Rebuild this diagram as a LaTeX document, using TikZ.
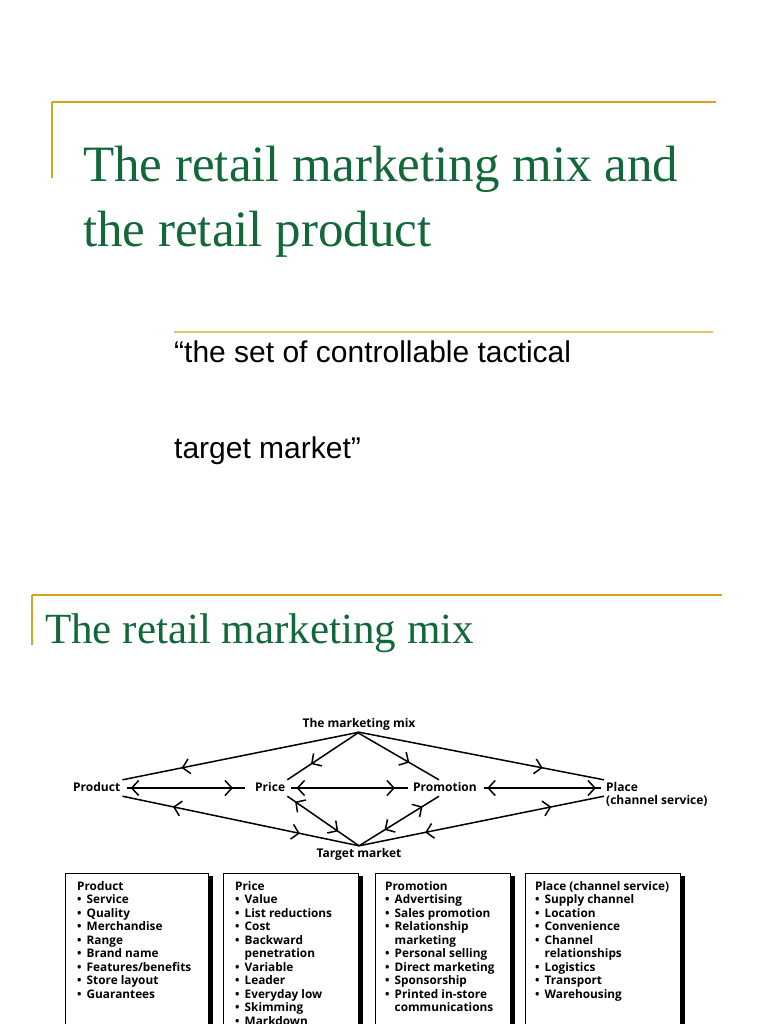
\documentclass[tikz,border=0pt]{standalone}
\usepackage{fontspec}
\setmainfont{Liberation Serif}
\setsansfont{Liberation Sans}
\newfontfamily\mixfont{Open Sans}
\usepackage{tikz}
\usetikzlibrary{arrows.meta,decorations.markings,positioning}
\definecolor{slidegold}{RGB}{214,163,28}
\definecolor{quotegold}{RGB}{228,196,112}
\definecolor{slidegreen}{RGB}{18,104,56}
\tikzset{>={Straight Barb[length=7pt,width=15pt]}}
\tikzset{
  midto/.style={postaction={decorate,decoration={markings,mark=at position #1 with {\arrow{>}}}}},
  twoway/.style 2 args={postaction={decorate,decoration={markings,
      mark=at position #1 with {\arrow{<}},mark=at position #2 with {\arrow{>}}}}}
}
\newcommand{\mixitem}{\makebox[9.5pt][l]{\textbullet}}
\newcommand{\mixcont}{\hspace*{9.5pt}}

\begin{document}
\begin{tikzpicture}[x=1pt,y=-1pt]
  % page in pixels, y runs downwards
  \useasboundingbox (0,0) rectangle (768,1024);
  \clip (0,0) rectangle (768,1024);
  \tikzstyle{every node}=[inner sep=0pt]
  \tikzstyle{goldrule}=[slidegold, line width=1.8pt]
  \tikzstyle{quoterule}=[quotegold, line width=1.3pt]
  \tikzstyle{ttl}=[anchor=base west, text=slidegreen, font=\fontsize{51}{60}\selectfont]
  \tikzstyle{quote}=[anchor=base west, font=\sffamily\fontsize{30}{34}\selectfont]
  \tikzstyle{lbl}=[font=\mixfont\bfseries\fontsize{12}{13}\selectfont, text height=9pt, text depth=3pt, inner sep=2pt]
  \tikzstyle{mixline}=[line width=1.5pt]
  \tikzstyle{listbox}=[draw=black, line width=0.7pt, anchor=north west]
  \tikzstyle{listtext}=[anchor=north west, align=left, font=\mixfont\bfseries\fontsize{11.8}{13.5}\selectfont]

  % first slide
  \draw[goldrule] (52,102) -- (716,102);
  \draw[goldrule] (52,102) -- (52,178);
  \node[ttl] (title1) at (83,182) {The retail marketing mix and};
  \node[ttl] (title2) at (83,246) {the retail product};
  \draw[quoterule] (174,332) -- (713,332);
  \node[quote] (quote1) at (174,362) {“the set of controllable tactical};
  \node[quote] (quote2) at (174,458) {target market”};

  % second slide
  \draw[goldrule] (32,595) -- (722,595);
  \draw[goldrule] (32,595) -- (32,645);
  \node[ttl, font=\fontsize{43}{50}\selectfont] (title3) at (45,643) {The retail marketing mix};

  % the diagram
  \node[lbl, anchor=base] (mix) at (359,727) {The marketing mix};
  \node[lbl, anchor=base west] (prod) at (71,791) {Product};
  \node[lbl, anchor=base west] (price) at (253,791) {Price};
  \node[lbl, anchor=base west] (promo) at (411,791) {Promotion};
  \node[lbl, anchor=base west] (place) at (604,791) {Place};
  \node[lbl, below=-3pt of place.south west, anchor=north west] (chan) {(channel service)};
  \node[lbl, anchor=base] (target) at (359,857) {Target market};

  \draw[mixline, midto=0.75] (mix.south) -- (prod.north east);
  \draw[mixline, midto=0.67] (mix.south) -- (price.north east);
  \draw[mixline, midto=0.64] ([xshift=-2pt]mix.south) -- ([xshift=-6pt]promo.north);
  \draw[mixline, midto=0.75] (mix.south) -- (place.north west);

  \draw[mixline, twoway={12pt}{-12pt}] ([xshift=5pt]prod.east) -- ([xshift=-8pt]price.west);
  \draw[mixline, twoway={14pt}{-13pt}] ([xshift=4pt]price.east) -- ([xshift=-3pt]promo.west);
  \draw[mixline, twoway={12pt}{-5pt}] ([xshift=5pt]promo.east) -- ([xshift=-3pt]place.west);

  \draw[mixline, twoway={0.25}{0.75}] (prod.south east) -- (target.north);
  \draw[mixline, twoway={0.21}{0.71}] (price.south east) -- (target.north);
  \draw[mixline, twoway={0.3}{0.68}] ([xshift=-6pt]promo.south) -- (target.north);
  \draw[mixline, twoway={0.25}{0.73}] (place.south west) -- (target.north);

  % the four lists
  \node[listbox, minimum width=143, minimum height=170] (prodbox) at (65,873) {};
  \node[listbox, minimum width=135, minimum height=170] (pricebox) at (223,873) {};
  \node[listbox, minimum width=135, minimum height=170] (promobox) at (375,873) {};
  \node[listbox, minimum width=155, minimum height=170] (placebox) at (525,873) {};
  \foreach \b in {prodbox,pricebox,promobox,placebox}
    \fill ([yshift=-3pt]\b.north east) rectangle ([xshift=4pt]\b.south east);

  \node[listtext] (prodlist) at (77,881) {Product\\
    \mixitem Service\\ \mixitem Quality\\ \mixitem Merchandise\\ \mixitem Range\\
    \mixitem Brand name\\ \mixitem Features/benefits\\ \mixitem Store layout\\ \mixitem Guarantees};
  \node[listtext] (pricelist) at (235,881) {Price\\
    \mixitem Value\\ \mixitem List reductions\\ \mixitem Cost\\ \mixitem Backward\\
    \mixcont penetration\\ \mixitem Variable\\ \mixitem Leader\\ \mixitem Everyday low\\
    \mixitem Skimming\\ \mixitem Markdown};
  \node[listtext] (promolist) at (385,881) {Promotion\\
    \mixitem Advertising\\ \mixitem Sales promotion\\ \mixitem Relationship\\
    \mixcont marketing\\ \mixitem Personal selling\\ \mixitem Direct marketing\\
    \mixitem Sponsorship\\ \mixitem Printed in-store\\ \mixcont communications};
  \node[listtext] (placelist) at (535,881) {Place (channel service)\\
    \mixitem Supply channel\\ \mixitem Location\\ \mixitem Convenience\\ \mixitem Channel\\
    \mixcont relationships\\ \mixitem Logistics\\ \mixitem Transport\\ \mixitem Warehousing};
\end{tikzpicture}
\end{document}
